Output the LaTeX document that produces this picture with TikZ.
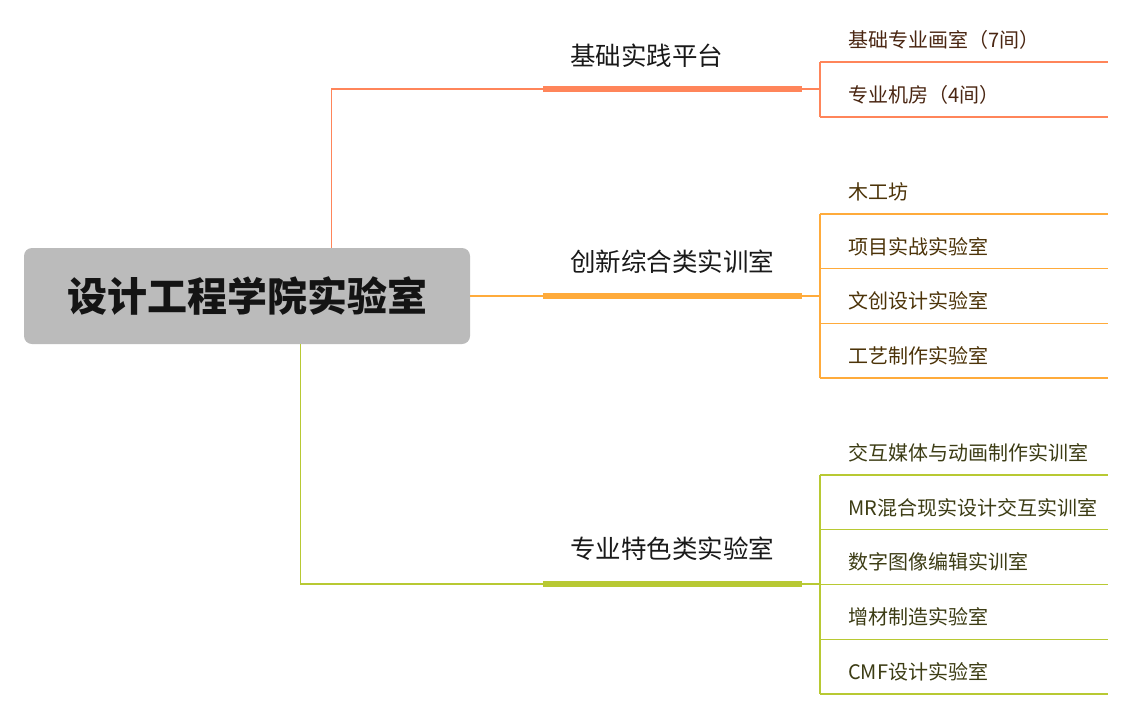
\documentclass[tikz,border=0pt]{standalone}
\usepackage{fontspec}
\usepackage{tikz}
\setmainfont{Noto Sans CJK SC}
\newfontfamily\cjk{Noto Sans CJK SC}
\definecolor{orangeA}{HTML}{FF855A}
\definecolor{orangeB}{HTML}{FFAB3B}
\definecolor{greenC}{HTML}{B8C933}
\definecolor{rootgray}{HTML}{BBBBBB}
\definecolor{inkA}{HTML}{4A2612}
\definecolor{inkB}{HTML}{4C3308}
\definecolor{inkC}{HTML}{3C3C14}

\tikzset{
  rootbox/.style={fill=rootgray,rounded corners=8,minimum width=446,minimum height=96,
    font=\cjk\bfseries\fontsize{40}{48}\selectfont,text=black!92},
  grp/.style={anchor=west,inner sep=0,font=\cjk\fontsize{25.5}{30}\selectfont,text=black!90},
  bar/.style={inner sep=0,minimum width=259,minimum height=6.5},
  kid/.style={anchor=south west,minimum width=288,minimum height=44,inner sep=0,
    inner xsep=28,text width=232,align=left,font=\cjk\fontsize{20}{24}\selectfont}
}

\begin{document}
\begin{tikzpicture}[x=1pt,y=-1pt]
\useasboundingbox (0,0) rectangle (1138,724);

\node[rootbox] (root) at (247,296) {设计工程学院实验室};

% basic platform
\node[bar,fill=orangeA] (bar1) at (672.5,89) {};
\node[grp] (g1) at (570,56) {基础实践平台};
\foreach \t [count=\i] in {基础专业画室（7间）,专业机房（4间）}
  \node[kid,text=inkA] (a\i) at (820,62+55*\i-55) {\t};
\begin{scope}[orangeA,line width=1.3]
\draw ([xshift=308]root.north west) |- (bar1.west);
\draw (bar1.east) -- (a1.south west |- bar1.east);
\draw (a1.south west) -- (a2.south west);
\foreach \i in {1,2}
  \draw (a\i.south west) -- (a\i.south east);
\end{scope}

% innovation
\node[bar,fill=orangeB] (bar2) at (672.5,296) {};
\node[grp] (g2) at (570,262) {创新综合类实训室};
\foreach \t [count=\i] in {木工坊,项目实战实验室,文创设计实验室,工艺制作实验室}
  \node[kid,text=inkB] (b\i) at (820,214+54.67*\i-54.67) {\t};
\begin{scope}[orangeB,line width=1.3]
\draw (root.east) -- (bar2.west);
\draw (bar2.east) -- (b1.south west |- bar2.east);
\draw (b1.south west) -- (b4.south west);
\foreach \i in {1,...,4}
  \draw (b\i.south west) -- (b\i.south east);
\end{scope}

% special
\node[bar,fill=greenC] (bar3) at (672.5,584) {};
\node[grp] (g3) at (570,549) {专业特色类实验室};
\foreach \t [count=\i] in {交互媒体与动画制作实训室,MR混合现实设计交互实训室,数字图像编辑实训室,增材制造实验室,CMF设计实验室}
  \node[kid,text=inkC] (c\i) at (820,475+54.75*\i-54.75) {\t};
\begin{scope}[greenC,line width=1.3]
\draw ([xshift=277]root.south west) |- (bar3.west);
\draw (bar3.east) -- (c1.south west |- bar3.east);
\draw (c1.south west) -- (c5.south west);
\foreach \i in {1,...,5}
  \draw (c\i.south west) -- (c\i.south east);
\end{scope}
\end{tikzpicture}
\end{document}
